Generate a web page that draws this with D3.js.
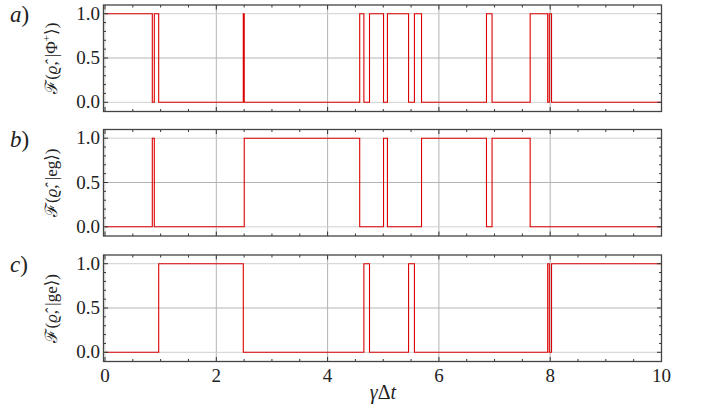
<!DOCTYPE html>
<html>
<head>
<meta charset="utf-8">
<script src="https://cdn.jsdelivr.net/npm/d3@7"></script>
<style>
  body { margin: 0; background: #fff; }
</style>
</head>
<body>
<script>
// Jump times (start of each constant segment)
const jumpTimes = [0, 0.85, 0.886, 0.965, 2.485, 2.502, 4.577, 4.652, 4.753, 5.005, 5.075,
    5.455, 5.56, 5.688, 6.855, 6.955, 7.64, 7.955, 7.984, 8.024];
const endTime = 10;

// Fidelity with each target state on every segment
const phiValues = [1, 0, 1, 0, 1, 0, 1, 0, 1, 0, 1, 0, 1, 0, 1, 0, 1, 0, 1, 0];
const egValues  = [0, 1, 0, 0, 0, 1, 0, 0, 0, 1, 0, 0, 0, 1, 0, 1, 0, 0, 0, 0];
const geValues  = [0, 0, 0, 1, 0, 0, 0, 1, 0, 0, 0, 1, 0, 0, 0, 0, 0, 1, 0, 1];

const panelLetters = ['a', 'b', 'c'];
const xTicks = [0, 2, 4, 6, 8, 10];
const yTicks = [0, 0.5, 1];

const width = 704;
const height = 410;
const frameLeft = 103.5;
const frameRight = 661.5;
const panelTops = [5, 129.5, 255];
const panelHeight = 106.5;

const font = size => `font-family: 'Liberation Serif', 'DejaVu Serif', serif; font-size: ${size}px;`;

const svg = d3.select('body')
    .append('svg')
    .attr('width', width)
    .attr('height', height);

const x = d3.scaleLinear().domain([0, 10]).range([105, 661.5]);

const line = d3.line()
    .x(d => x(d[0]))
    .y(d => d[1])
    .curve(d3.curveStepAfter);

const series = [phiValues, egValues, geValues];

series.forEach((values, i) => {
    const top = panelTops[i];
    const bottom = top + panelHeight;
    const y = d3.scaleLinear().domain([0, 1]).range([top + 97.3, top + 8.7]);
    const g = svg.append('g');

    // grid lines
    g.selectAll('.vgrid')
        .data(xTicks)
        .enter()
        .append('line')
        .attr('x1', d => x(d)).attr('x2', d => x(d))
        .attr('y1', top).attr('y2', bottom)
        .attr('stroke', d => d === 0 ? '#d8d8d8' : '#b3b3b3')
        .attr('stroke-width', 1);
    g.selectAll('.hgrid')
        .data(yTicks)
        .enter()
        .append('line')
        .attr('x1', frameLeft).attr('x2', frameRight)
        .attr('y1', d => y(d)).attr('y2', d => y(d))
        .attr('stroke', d => d === 0.5 ? '#b3b3b3' : '#d0d0d0')
        .attr('stroke-width', 1);

    // step curve
    const pts = jumpTimes.map((t, k) => [t, y(values[k])]);
    pts.push([endTime, y(values[values.length - 1])]);
    g.append('path')
        .attr('d', line(pts))
        .attr('fill', 'none')
        .attr('stroke', '#dd0000')
        .attr('stroke-width', 1.1);

    // ticks (inside the frame)
    const minorX = d3.range(0, 10.01, 0.5).filter(v => v % 2 !== 0);
    const minorY = d3.range(0, 1.001, 0.1).map(v => Math.round(v * 10) / 10).filter(v => v !== 0 && v !== 0.5 && v !== 1);
    const tickColor = '#333';
    const addTicks = (vals, len, horizontal) => {
        vals.forEach(v => {
            if (horizontal) {
                g.append('line').attr('x1', x(v)).attr('x2', x(v)).attr('y1', bottom).attr('y2', bottom - len).attr('stroke', tickColor);
                g.append('line').attr('x1', x(v)).attr('x2', x(v)).attr('y1', top).attr('y2', top + len).attr('stroke', tickColor);
            } else {
                g.append('line').attr('x1', frameLeft).attr('x2', frameLeft + len).attr('y1', y(v)).attr('y2', y(v)).attr('stroke', tickColor);
                g.append('line').attr('x1', frameRight).attr('x2', frameRight - len).attr('y1', y(v)).attr('y2', y(v)).attr('stroke', tickColor);
            }
        });
    };
    addTicks(xTicks, 4.5, true);
    addTicks(minorX, 2.5, true);
    addTicks(yTicks, 4.5, false);
    addTicks(minorY, 2.5, false);

    // frame
    g.append('rect')
        .attr('x', frameLeft).attr('y', top)
        .attr('width', frameRight - frameLeft).attr('height', panelHeight)
        .attr('fill', 'none')
        .attr('stroke', '#444')
        .attr('stroke-width', 1.3);

    // y tick labels
    g.selectAll('.ylab')
        .data(yTicks)
        .enter()
        .append('text')
        .attr('x', 100)
        .attr('y', d => y(d) + 6)
        .attr('text-anchor', 'end')
        .attr('fill', '#222')
        .attr('style', font(19))
        .text(d => d3.format('.1f')(d));

    // y axis title
    const title = g.append('text')
        .attr('transform', `translate(57,${top + panelHeight / 2}) rotate(-90)`)
        .attr('text-anchor', 'middle')
        .attr('fill', '#222')
        .attr('style', font(17));
    title.append('tspan').text('ℱ(');
    title.append('tspan').attr('font-style', 'italic').text('ϱ\u0302');
    if (i === 0) {
        title.append('tspan').text(', |Φ');
        title.append('tspan').attr('dy', -7).attr('style', font(11)).text('+');
        title.append('tspan').attr('dy', 7).text('⟩)');
    } else if (i === 1) {
        title.append('tspan').text(', |eg⟩)');
    } else {
        title.append('tspan').text(', |ge⟩)');
    }

    // panel letter
    const pl = g.append('text')
        .attr('x', 10)
        .attr('y', top + 17)
        .attr('fill', '#222')
        .attr('style', font(23));
    pl.append('tspan').attr('font-style', 'italic').text(panelLetters[i]);
    pl.append('tspan').text(')');

    if (i === 2) {
        g.selectAll('.xlab')
            .data(xTicks)
            .enter()
            .append('text')
            .attr('x', d => x(d))
            .attr('y', bottom + 20)
            .attr('text-anchor', 'middle')
            .attr('fill', '#222')
            .attr('style', font(19))
            .text(d => d);
        const xt = g.append('text')
            .attr('x', 383)
            .attr('y', bottom + 37)
            .attr('text-anchor', 'middle')
            .attr('fill', '#222')
            .attr('style', font(20));
        xt.append('tspan').attr('font-style', 'italic').text('γ');
        xt.append('tspan').text('Δ');
        xt.append('tspan').attr('font-style', 'italic').text('t');
    }
});
</script>
</body>
</html>
